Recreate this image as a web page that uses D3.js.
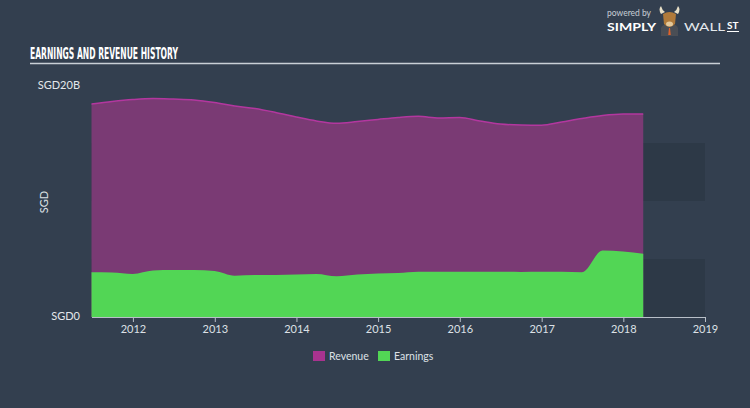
<!DOCTYPE html>
<html><head><meta charset="utf-8">
<script src="https://cdn.jsdelivr.net/npm/d3@7"></script>
<style>html,body{margin:0;padding:0;background:#333f4f;}svg{display:block;}</style>
</head><body>
<svg id="c" width="750" height="408"></svg>
<script>
const dates = ["2011-06-30","2011-09-30","2011-12-31","2012-03-31","2012-06-30","2012-09-30","2012-12-31","2013-03-31","2013-06-30","2013-09-30","2013-12-31","2014-03-31","2014-06-30","2014-09-30","2014-12-31","2015-03-31","2015-06-30","2015-09-30","2015-12-31","2016-03-31","2016-06-30","2016-09-30","2016-12-31","2017-03-31","2017-06-30","2017-09-30","2017-12-31","2018-03-31"];
const revenue = [18.36,18.58,18.75,18.84,18.79,18.71,18.49,18.19,17.97,17.63,17.24,16.9,16.7,16.85,17.03,17.2,17.3,17.16,17.2,16.9,16.64,16.55,16.53,16.81,17.11,17.37,17.5,17.5];
const earnings = [3.85,3.84,3.71,4.01,4.05,4.05,3.97,3.56,3.62,3.62,3.66,3.71,3.51,3.66,3.75,3.79,3.9,3.9,3.9,3.9,3.9,3.88,3.9,3.9,3.85,5.73,5.65,5.46];
const yearTicks = [2012,2013,2014,2015,2016,2017,2018,2019];
const yLabels = ["SGD0","SGD20B"];
const legendItems = ["Revenue","Earnings"];

const parse = d3.timeParse("%Y-%m-%d");
const data = dates.map((d,i)=>({date:parse(d), rev:revenue[i], earn:earnings[i]}));

const svg = d3.select("#c");
const bg = "#333f4f";
svg.append("rect").attr("width",750).attr("height",408).attr("fill",bg);

const x = d3.scaleTime().domain([parse("2011-06-30"), new Date(2019,0,1)]).range([91.5,705]);
const y = d3.scaleLinear().domain([0,20]).range([317,85]);

// background bands
[[0,5],[10,15]].forEach(b=>{
  svg.append("rect").attr("x",x.range()[0]).attr("width",x.range()[1]-x.range()[0])
    .attr("y",y(b[1])).attr("height",y(b[0])-y(b[1])).attr("fill","#2d3947");
});

const areaRev = d3.area().x(d=>x(d.date)).y0(y(0)).y1(d=>y(d.rev)).curve(d3.curveMonotoneX);
const lineRev = d3.line().x(d=>x(d.date)).y(d=>y(d.rev)).curve(d3.curveMonotoneX);
const areaEarn = d3.area().x(d=>x(d.date)).y0(y(0)).y1(d=>y(d.earn)).curve(d3.curveMonotoneX);

svg.append("path").datum(data).attr("d",areaRev).attr("fill","#7a3a74");
svg.append("path").datum(data).attr("d",lineRev).attr("fill","none").attr("stroke","#b3379f").attr("stroke-width",1.5);
svg.append("path").datum(data).attr("d",areaEarn).attr("fill","#52d655");

// x axis
const xAxis = d3.axisBottom(x)
  .tickValues(yearTicks.map(yv=>new Date(yv,0,1)))
  .tickFormat(d3.timeFormat("%Y"))
  .tickSize(5).tickPadding(3).tickSizeOuter(0);
const gx = svg.append("g").attr("transform","translate(0,317)").call(xAxis);
gx.select(".domain").attr("stroke","#b8bfc8").attr("stroke-width",1.2);
gx.selectAll(".tick line").attr("stroke","#b8bfc8");
gx.selectAll("text").attr("fill","#dde1e6").attr("font-family","Lato, sans-serif").attr("font-size",11);

// y labels
svg.append("text").attr("x",80).attr("y",y(20)+4).attr("text-anchor","end")
  .attr("fill","#e4e7eb").attr("font-family","Lato, sans-serif").attr("font-size",11).text(yLabels[1]);
svg.append("text").attr("x",80).attr("y",y(0)+3).attr("text-anchor","end")
  .attr("fill","#e4e7eb").attr("font-family","Lato, sans-serif").attr("font-size",11).text(yLabels[0]);
svg.append("text").attr("transform","translate(48,202) rotate(-90)").attr("text-anchor","middle")
  .attr("fill","#dde1e6").attr("font-family","Lato, sans-serif").attr("font-size",11).text("SGD");

// title
svg.append("text").attr("x",30).attr("y",59).attr("fill","#ffffff")
  .attr("font-family","'Liberation Sans Narrow', 'DejaVu Sans Condensed', sans-serif").attr("font-weight","bold")
  .attr("font-size",15).attr("textLength",148).attr("lengthAdjust","spacingAndGlyphs")
  .text("EARNINGS AND REVENUE HISTORY");
svg.append("line").attr("x1",30).attr("x2",720).attr("y1",63.5).attr("y2",63.5)
  .attr("stroke","#c9cfd6").attr("stroke-width",1.5);

// legend
const legColors = ["#a8338f","#52d655"];
const legX = [313,378];
legendItems.forEach((t,i)=>{
  svg.append("rect").attr("x",legX[i]).attr("y",351).attr("width",12).attr("height",10).attr("fill",legColors[i]);
  svg.append("text").attr("x",legX[i]+16).attr("y",360).attr("fill","#dde1e6")
    .attr("font-family","Lato, sans-serif").attr("font-size",10.5).text(t);
});

// logo
const lg = svg.append("g");
lg.append("text").attr("x",607).attr("y",16).attr("fill","#c8ced6").attr("font-family","Lato, sans-serif").attr("font-size",8.5).text("powered by");
lg.append("text").attr("x",607).attr("y",31).attr("fill","#ffffff").attr("font-family","Lato, sans-serif").attr("font-weight","bold").attr("font-size",12).attr("textLength",49).attr("lengthAdjust","spacingAndGlyphs").text("SIMPLY");
lg.append("text").attr("x",684).attr("y",31).attr("fill","#e4e8ec").attr("font-family","Lato, sans-serif").attr("font-size",12).attr("textLength",41).attr("lengthAdjust","spacingAndGlyphs").text("WALL");
lg.append("text").attr("x",727).attr("y",29).attr("fill","#ffffff").attr("font-family","Lato, sans-serif").attr("font-weight","bold").attr("font-size",10).text("ST");
lg.append("line").attr("x1",727).attr("x2",739).attr("y1",31.5).attr("y2",31.5).attr("stroke","#ffffff").attr("stroke-width",1);
// bull
lg.append("path").attr("d","M661,14 Q658,9 661,6 Q662,10 665,12 Z").attr("fill","#e8e0c8");
lg.append("path").attr("d","M678,14 Q681,9 678,6 Q677,10 674,12 Z").attr("fill","#e8e0c8");
lg.append("path").attr("d","M661,36 L661,28 Q662,24 669.5,24 Q677,24 678,28 L678,36 Z").attr("fill","#4a4e55");
lg.append("path").attr("d","M663,14 Q669.5,10 676,14 L675,24 Q669.5,30 664,24 Z").attr("fill","#b07a3a");
lg.append("ellipse").attr("cx",669.5).attr("cy",24).attr("rx",3.5).attr("ry",2.5).attr("fill","#e3c89a");
lg.append("path").attr("d","M669,28 L670,28 L670.8,35 L668.2,35 Z").attr("fill","#e0622a");
</script>
</body></html>
